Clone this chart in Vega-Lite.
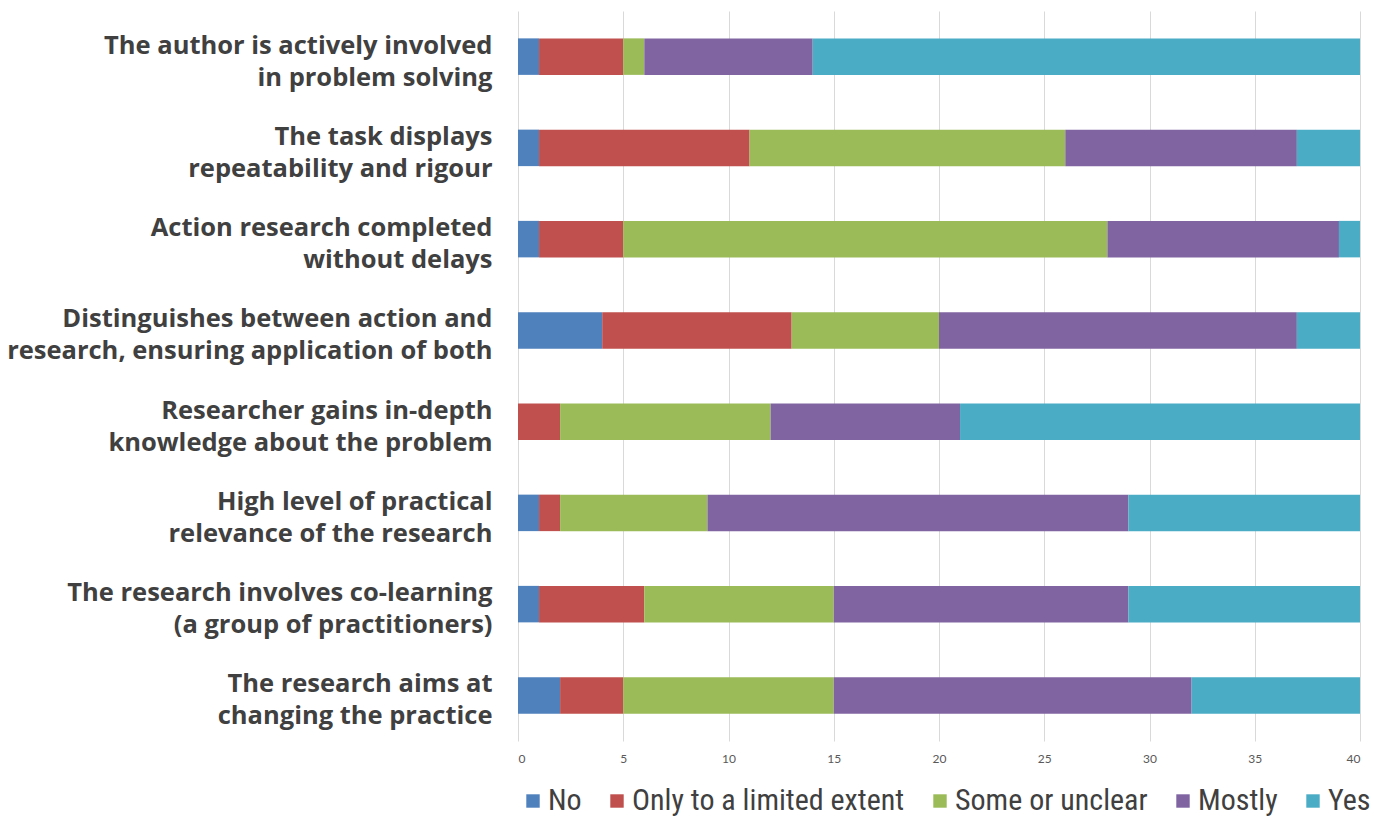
{
  "$schema": "https://vega.github.io/schema/vega-lite/v6.json",
  "width": 842,
  "height": 730,
  "padding": {"left": 6, "top": 11, "right": 18, "bottom": 0},
  "background": "white",
  "data": {
    "values": [
      {"criterion": "The author is actively involved|in problem solving", "response": "No", "rank": 1, "count": 1},
      {"criterion": "The author is actively involved|in problem solving", "response": "Only to a limited extent", "rank": 2, "count": 4},
      {"criterion": "The author is actively involved|in problem solving", "response": "Some or unclear", "rank": 3, "count": 1},
      {"criterion": "The author is actively involved|in problem solving", "response": "Mostly", "rank": 4, "count": 8},
      {"criterion": "The author is actively involved|in problem solving", "response": "Yes", "rank": 5, "count": 26},
      {"criterion": "The task displays|repeatability and rigour", "response": "No", "rank": 1, "count": 1},
      {"criterion": "The task displays|repeatability and rigour", "response": "Only to a limited extent", "rank": 2, "count": 10},
      {"criterion": "The task displays|repeatability and rigour", "response": "Some or unclear", "rank": 3, "count": 15},
      {"criterion": "The task displays|repeatability and rigour", "response": "Mostly", "rank": 4, "count": 11},
      {"criterion": "The task displays|repeatability and rigour", "response": "Yes", "rank": 5, "count": 3},
      {"criterion": "Action research completed|without delays", "response": "No", "rank": 1, "count": 1},
      {"criterion": "Action research completed|without delays", "response": "Only to a limited extent", "rank": 2, "count": 4},
      {"criterion": "Action research completed|without delays", "response": "Some or unclear", "rank": 3, "count": 23},
      {"criterion": "Action research completed|without delays", "response": "Mostly", "rank": 4, "count": 11},
      {"criterion": "Action research completed|without delays", "response": "Yes", "rank": 5, "count": 1},
      {"criterion": "Distinguishes between action and|research, ensuring application of both", "response": "No", "rank": 1, "count": 4},
      {"criterion": "Distinguishes between action and|research, ensuring application of both", "response": "Only to a limited extent", "rank": 2, "count": 9},
      {"criterion": "Distinguishes between action and|research, ensuring application of both", "response": "Some or unclear", "rank": 3, "count": 7},
      {"criterion": "Distinguishes between action and|research, ensuring application of both", "response": "Mostly", "rank": 4, "count": 17},
      {"criterion": "Distinguishes between action and|research, ensuring application of both", "response": "Yes", "rank": 5, "count": 3},
      {"criterion": "Researcher gains in-depth|knowledge about the problem", "response": "No", "rank": 1, "count": 0},
      {"criterion": "Researcher gains in-depth|knowledge about the problem", "response": "Only to a limited extent", "rank": 2, "count": 2},
      {"criterion": "Researcher gains in-depth|knowledge about the problem", "response": "Some or unclear", "rank": 3, "count": 10},
      {"criterion": "Researcher gains in-depth|knowledge about the problem", "response": "Mostly", "rank": 4, "count": 9},
      {"criterion": "Researcher gains in-depth|knowledge about the problem", "response": "Yes", "rank": 5, "count": 19},
      {"criterion": "High level of practical|relevance of the research", "response": "No", "rank": 1, "count": 1},
      {"criterion": "High level of practical|relevance of the research", "response": "Only to a limited extent", "rank": 2, "count": 1},
      {"criterion": "High level of practical|relevance of the research", "response": "Some or unclear", "rank": 3, "count": 7},
      {"criterion": "High level of practical|relevance of the research", "response": "Mostly", "rank": 4, "count": 20},
      {"criterion": "High level of practical|relevance of the research", "response": "Yes", "rank": 5, "count": 11},
      {"criterion": "The research involves co-learning|(a group of practitioners)", "response": "No", "rank": 1, "count": 1},
      {"criterion": "The research involves co-learning|(a group of practitioners)", "response": "Only to a limited extent", "rank": 2, "count": 5},
      {"criterion": "The research involves co-learning|(a group of practitioners)", "response": "Some or unclear", "rank": 3, "count": 9},
      {"criterion": "The research involves co-learning|(a group of practitioners)", "response": "Mostly", "rank": 4, "count": 14},
      {"criterion": "The research involves co-learning|(a group of practitioners)", "response": "Yes", "rank": 5, "count": 11},
      {"criterion": "The research aims at|changing the practice", "response": "No", "rank": 1, "count": 2},
      {"criterion": "The research aims at|changing the practice", "response": "Only to a limited extent", "rank": 2, "count": 3},
      {"criterion": "The research aims at|changing the practice", "response": "Some or unclear", "rank": 3, "count": 10},
      {"criterion": "The research aims at|changing the practice", "response": "Mostly", "rank": 4, "count": 17},
      {"criterion": "The research aims at|changing the practice", "response": "Yes", "rank": 5, "count": 8}
    ]
  },
  "mark": {"type": "bar"},
  "encoding": {
    "y": {
      "field": "criterion",
      "type": "nominal",
      "sort": null,
      "scale": {"paddingInner": 0.6, "paddingOuter": 0.3},
      "axis": {
        "title": null,
        "domain": false,
        "ticks": false,
        "labelExpr": "split(datum.label, '|')",
        "labelFont": "Open Sans",
        "labelFontWeight": "bold",
        "labelFontSize": 25.5,
        "labelLineHeight": 32,
        "labelColor": "#404040",
        "labelPadding": 26,
        "labelOffset": -11,
        "labelLimit": 600,
        "minExtent": 510,
        "maxExtent": 510
      }
    },
    "x": {
      "field": "count",
      "type": "quantitative",
      "stack": "zero",
      "scale": {"domain": [0, 40], "nice": false},
      "axis": {
        "title": null,
        "values": [0, 5, 10, 15, 20, 25, 30, 35, 40],
        "domain": false,
        "ticks": false,
        "grid": true,
        "gridColor": "#d9d9d9",
        "gridWidth": 1,
        "labelFont": "Lato",
        "labelFontSize": 12,
        "labelColor": "#595959",
        "labelPadding": 12
      }
    },
    "color": {
      "field": "response",
      "type": "nominal",
      "scale": {
        "domain": ["No", "Only to a limited extent", "Some or unclear", "Mostly", "Yes"],
        "range": ["#4F81BD", "#C0504D", "#9BBB59", "#8064A2", "#4BACC6"]
      },
      "legend": {
        "title": null,
        "orient": "bottom",
        "direction": "horizontal",
        "offset": 22,
        "padding": 0,
        "symbolType": "square",
        "symbolSize": 180,
        "symbolStrokeWidth": 0,
        "labelFont": "'Liberation Sans Narrow', 'Roboto Condensed', 'DejaVu Sans Condensed', Lato",
        "labelFontSize": 30,
        "labelColor": "#404040",
        "labelOffset": 0,
        "columnPadding": 20,
        "labelLimit": 400
      }
    },
    "order": {"field": "rank", "type": "quantitative"}
  },
  "config": {"view": {"stroke": null}}
}
